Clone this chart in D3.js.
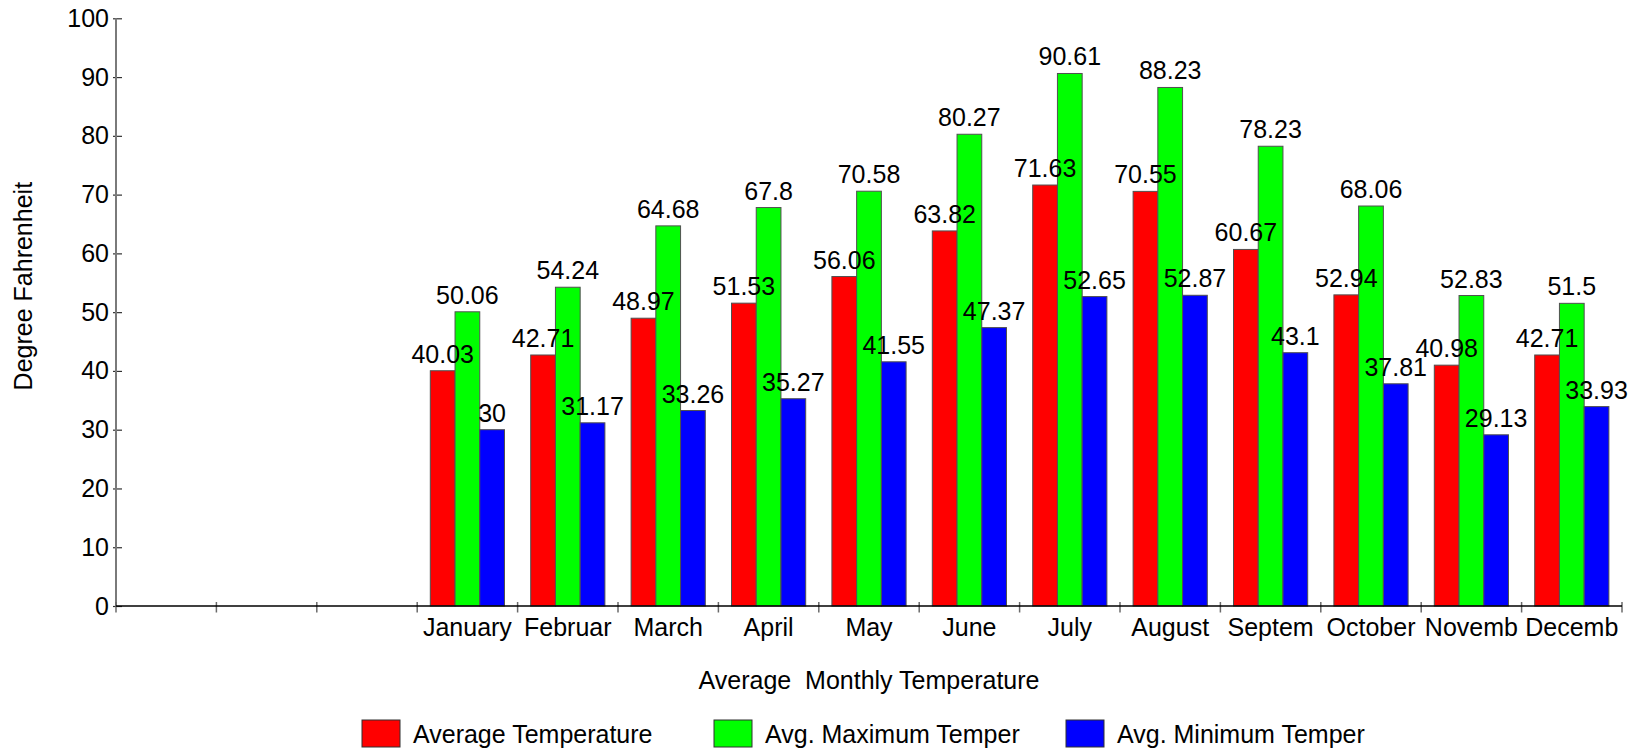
<!DOCTYPE html>
<html>
<head>
<meta charset="utf-8">
<script src="https://cdn.jsdelivr.net/npm/d3@7"></script>
<style>
  html, body { margin: 0; padding: 0; background: #fff; }
  svg { display: block; font-family: "Liberation Sans", Arial, sans-serif; }
  text { white-space: pre; }
</style>
</head>
<body>
<svg id="chart" width="1640" height="754"></svg>
<script>
// Monthly temperature data (°F)
const months = ["January", "Februar", "March", "April", "May", "June",
                "July", "August", "Septem", "October", "Novemb", "Decemb"];
const leadingEmptySlots = 3;
const seriesNames = ["Average Temperature", "Avg. Maximum Temper", "Avg. Minimum Temper"];
const seriesColors = ["#ff0000", "#00ff00", "#0000ff"];
const avgTemp = [40.03, 42.71, 48.97, 51.53, 56.06, 63.82, 71.63, 70.55, 60.67, 52.94, 40.98, 42.71];
const maxTemp = [50.06, 54.24, 64.68, 67.8, 70.58, 80.27, 90.61, 88.23, 78.23, 68.06, 52.83, 51.5];
const minTemp = [30, 31.17, 33.26, 35.27, 41.55, 47.37, 52.65, 52.87, 43.1, 37.81, 29.13, 33.93];
const yTicks = [0, 10, 20, 30, 40, 50, 60, 70, 80, 90, 100];
const xTitle = "Average  Monthly Temperature";
const yTitle = "Degree Fahrenheit";

(function () {
  const seriesValues = [avgTemp, maxTemp, minTemp];
  const slotLabels = d3.range(leadingEmptySlots).map(() => "").concat(months);
  const slots = d3.range(slotLabels.length);

  const svg = d3.select("#chart");
  const plotLeft = 116, plotRight = 1622, plotTop = 18.3, plotBottom = 606;
  const fontSize = 25;

  const x = d3.scaleBand().domain(slots).range([plotLeft, plotRight]).paddingInner(0).paddingOuter(0);
  const xs = d3.scaleBand().domain(d3.range(seriesNames.length))
    .range([0, x.bandwidth()]).paddingInner(0).paddingOuter(0.53);
  const y = d3.scaleLinear().domain([0, 100]).range([plotBottom, plotTop]);

  // Bars
  const rows = [];
  months.forEach((m, i) => {
    seriesValues.forEach((vals, s) => {
      rows.push({ slot: i + leadingEmptySlots, s, v: vals[i] });
    });
  });

  svg.append("g").selectAll("rect").data(rows).join("rect")
    .attr("x", d => x(d.slot) + xs(d.s))
    .attr("y", d => y(d.v))
    .attr("width", xs.bandwidth())
    .attr("height", d => y(0) - y(d.v))
    .attr("fill", d => seriesColors[d.s])
    .attr("stroke", "#505050")
    .attr("stroke-width", 1);

  // Value labels above the bars
  svg.append("g").selectAll("text").data(rows).join("text")
    .attr("x", d => x(d.slot) + xs(d.s) + xs.bandwidth() / 2)
    .attr("y", d => y(d.v) - 8)
    .attr("text-anchor", "middle")
    .attr("font-size", fontSize)
    .attr("fill", "#000")
    .text(d => String(d.v));

  // Y axis
  const yAxis = svg.append("g").attr("transform", `translate(${plotLeft},0)`)
    .call(d3.axisLeft(y).tickValues(yTicks).tickSize(3).tickPadding(4).tickFormat(d3.format("d")));
  yAxis.select(".domain").remove();
  yAxis.selectAll(".tick line").attr("x1", 6).attr("x2", -3).attr("stroke", "#303030").attr("stroke-width", 1.2);
  yAxis.selectAll(".tick text").attr("font-size", fontSize).attr("fill", "#000")
    .attr("font-family", "Liberation Sans, Arial, sans-serif");
  svg.append("line")
    .attr("x1", plotLeft).attr("x2", plotLeft).attr("y1", y(100)).attr("y2", y(0))
    .attr("stroke", "#7a7a7a").attr("stroke-width", 2);

  // X axis: ticks at slot boundaries, labels centred in slots
  const boundaries = slots.map(i => x(i)).concat([plotRight]);
  const xAxis = svg.append("g").attr("transform", `translate(0,${plotBottom})`);
  xAxis.selectAll("line.tick").data(boundaries).join("line")
    .attr("class", "tick")
    .attr("x1", d => d).attr("x2", d => d)
    .attr("y1", -4).attr("y2", 6.5)
    .attr("stroke", "#6a6a6a").attr("stroke-width", 1.5);
  xAxis.append("line")
    .attr("x1", plotLeft).attr("x2", plotRight).attr("y1", 0).attr("y2", 0)
    .attr("stroke", "#000").attr("stroke-width", 1.3);
  xAxis.selectAll("text.lbl").data(slots).join("text")
    .attr("class", "lbl")
    .attr("x", d => x(d) + x.bandwidth() / 2)
    .attr("y", 30)
    .attr("text-anchor", "middle")
    .attr("font-size", fontSize)
    .attr("fill", "#000")
    .text(d => slotLabels[d]);

  // Axis titles
  svg.append("text")
    .attr("x", (plotLeft + plotRight) / 2).attr("y", 689)
    .attr("text-anchor", "middle").attr("font-size", fontSize).attr("fill", "#000")
    .text(xTitle);
  svg.append("text")
    .attr("transform", `translate(32,${(plotTop + plotBottom) / 2 - 26}) rotate(-90)`)
    .attr("text-anchor", "middle").attr("font-size", fontSize).attr("fill", "#000")
    .text(yTitle);

  // Legend
  const legend = svg.append("g").attr("transform", "translate(362,720)");
  const item = legend.selectAll("g").data(seriesNames).join("g")
    .attr("transform", (d, i) => `translate(${i * 352},0)`);
  item.append("rect")
    .attr("width", 38).attr("height", 27)
    .attr("fill", (d, i) => seriesColors[i])
    .attr("stroke", "#303030").attr("stroke-width", 1);
  item.append("text")
    .attr("x", 51).attr("y", 23)
    .attr("font-size", fontSize).attr("fill", "#000")
    .text(d => d);
})();
</script>
</body>
</html>
